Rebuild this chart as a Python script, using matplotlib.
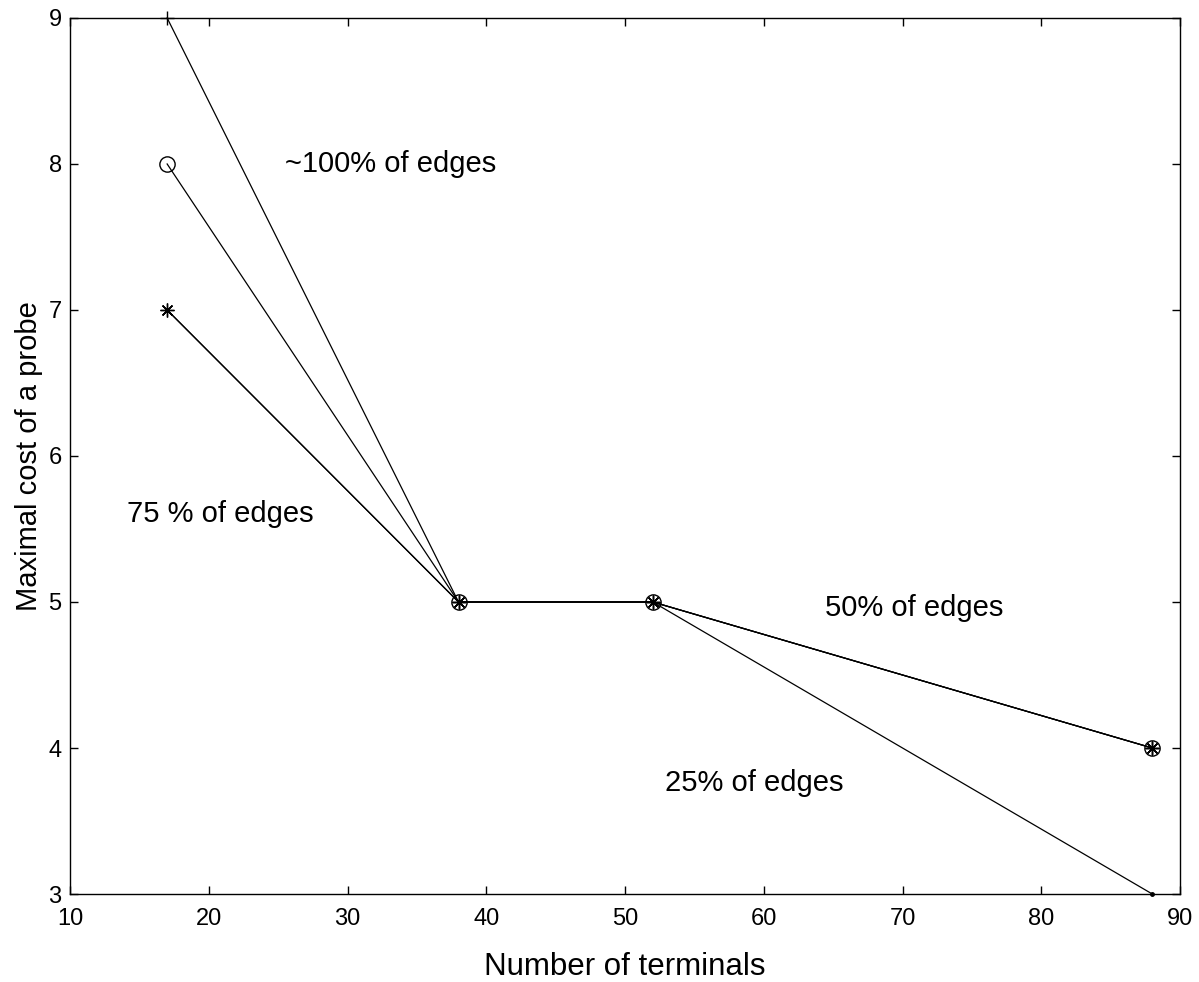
import matplotlib
matplotlib.use("Agg")
import matplotlib.pyplot as plt

plt.rcParams['font.family'] = ['Liberation Sans', 'DejaVu Sans']

terminals = [17, 38, 52, 88]
cost_100 = [9, 5, 5, 4]
cost_75 = [8, 5, 5, 4]
cost_50 = [7, 5, 5, 4]
cost_25 = [7, 5, 5, 3]

fig = plt.figure(figsize=(11.99, 9.82), dpi=100)
ax = fig.add_axes([0.0584, 0.0896, 0.9258, 0.8921])

lw = 0.9
ax.plot(terminals, cost_100, color='black', lw=lw, marker='+', ms=10, mew=1.0, clip_on=False)
ax.plot(terminals, cost_75, color='black', lw=lw, marker='o', ms=11, mfc='none', mew=1.0, clip_on=False)
ax.plot(terminals, cost_50, color='black', lw=lw, marker=(8, 2, 0), ms=10, mew=1.0, clip_on=False)
ax.plot(terminals, cost_25, color='black', lw=lw, marker='.', ms=5, clip_on=False)

ax.set_xlim(10, 90)
ax.set_ylim(3, 9)
ax.set_xticks(range(10, 91, 10))
ax.set_yticks(range(3, 10))
ax.tick_params(direction='in', top=True, right=True, labelsize=17, length=6, width=1, pad=6)
ax.tick_params(axis='x', pad=10)
for s in ax.spines.values():
    s.set_linewidth(1)

ax.text(25.5, 8.0, '~100% of edges', fontsize=21, va='center', ha='left')
ax.text(14.1, 5.6, '75 % of edges', fontsize=21, va='center', ha='left')
ax.text(64.4, 4.96, '50% of edges', fontsize=21, va='center', ha='left')
ax.text(52.9, 3.76, '25% of edges', fontsize=21, va='center', ha='left')

ax.set_xlabel('Number of terminals', fontsize=22.5, labelpad=16)
ax.set_ylabel('Maximal cost of a probe', fontsize=21, labelpad=4)

fig.savefig('out.png', dpi=100)
